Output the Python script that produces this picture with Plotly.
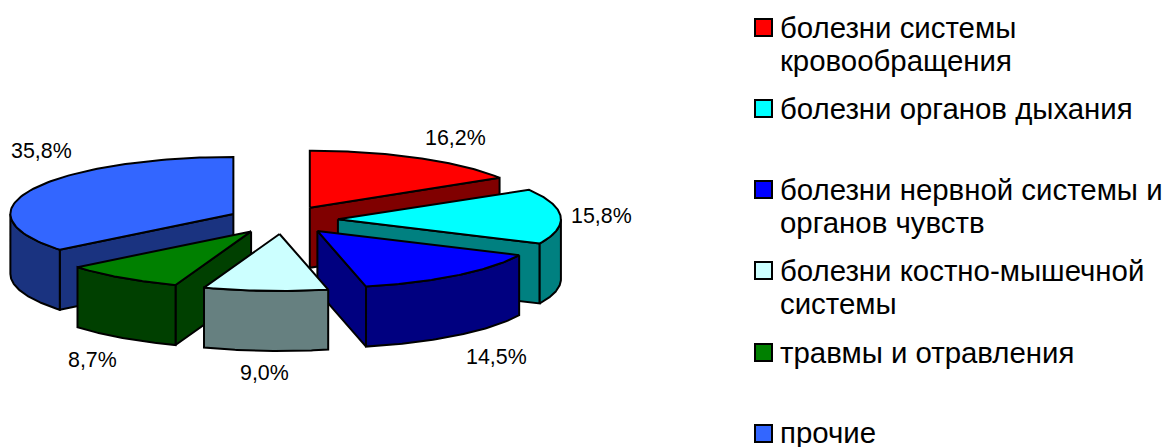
import numpy as np
import plotly.graph_objects as go

category_lines = [["болезни системы", "кровообращения"], ["болезни органов дыхания"],
                  ["болезни нервной системы и", "органов чувств"], ["болезни костно-мышечной", "системы"],
                  ["травмы и отравления"], ["прочие"]]
values = [16.2, 15.8, 14.5, 9.0, 8.7, 35.8]
labels = ["16,2%", "15,8%", "14,5%", "9,0%", "8,7%", "35,8%"]
top_colors = ["#FF0000", "#00FFFF", "#0000FF", "#CCFFFF", "#008000", "#3366FF"]
wall_colors = ["#800000", "#008080", "#000080", "#668080", "#004000", "#1A3380"]

# Projection of the tilted, exploded pie (page pixels)
CX, CY, RX, RY, DEPTH = 283, 220, 223, 57, 60
EXP_X, EXP_Y = 55, 14
LINE = dict(color="black", width=2)

label_pos = [(455, 138), (601, 216), (496, 357), (264, 373), (92, 360), (41, 151)]
legend_rows = [(18, [27, 60]), (99, [108]), (180, [189, 222]), (261, [270, 303]), (343, [352]), (424, [432])]

fig = go.Figure()


def poly(xs, ys, color):
    fig.add_trace(go.Scatter(x=list(xs), y=list(ys), mode="lines", fill="toself", fillcolor=color,
                             line=LINE, hoverinfo="skip", showlegend=False))


edges = np.concatenate([[0], np.cumsum(values)]) * 3.6
order = [0, 1, 2, 5, 4, 3]
for i in order:
    a0, a1 = np.radians(edges[i]), np.radians(edges[i + 1])
    mid = (a0 + a1) / 2
    tx, ty = CX + EXP_X * np.sin(mid), CY - EXP_Y * np.cos(mid)
    # radial side faces that look towards the viewer
    for a, vis in ((a0, np.sin(a0) < -1e-6), (a1, np.sin(a1) > 1e-6)):
        if vis:
            ex, ey = tx + RX * np.sin(a), ty - RY * np.cos(a)
            poly([tx, ex, ex, tx, tx], [ty, ey, ey + DEPTH, ty + DEPTH, ty], wall_colors[i])
    # outer wall (front half only)
    w0, w1 = max(a0, np.pi / 2), min(a1, 3 * np.pi / 2)
    if w1 > w0:
        t = np.linspace(w0, w1, 60)
        ax, ay = tx + RX * np.sin(t), ty - RY * np.cos(t)
        poly(np.r_[ax, ax[::-1], ax[0]], np.r_[ay, ay[::-1] + DEPTH, ay[0]], wall_colors[i])
    # top face
    t = np.linspace(a0, a1, 90)
    poly(np.r_[tx, tx + RX * np.sin(t), tx], np.r_[ty, ty - RY * np.cos(t), ty], top_colors[i])

annotations = [dict(x=x, y=y, text=s, showarrow=False, xanchor="center", yanchor="middle",
                    font=dict(size=21.4, color="black"))
               for (x, y), s in zip(label_pos, labels)]
shapes = []
for (top, ys), lines, c in zip(legend_rows, category_lines, top_colors):
    shapes.append(dict(type="rect", x0=755, x1=772, y0=top + 1, y1=top + 18, fillcolor=c,
                       line=dict(color="black", width=2), layer="above"))
    for y, line in zip(ys, lines):
        annotations.append(dict(x=778, y=y, text=line, showarrow=False, xanchor="left", yanchor="middle",
                                align="left", font=dict(size=29.4, color="black")))

fig.update_layout(
    width=1167, height=447, margin=dict(l=0, r=0, t=0, b=0),
    paper_bgcolor="white", plot_bgcolor="white",
    font=dict(family="Liberation Sans, Arial, sans-serif"),
    xaxis=dict(range=[0, 1167], visible=False, fixedrange=True),
    yaxis=dict(range=[447, 0], visible=False, fixedrange=True),
    annotations=annotations, shapes=shapes, showlegend=False,
)
fig.write_html("out.html", config=dict(displayModeBar=False),
               post_script="document.body.style.margin='0';document.body.style.overflow='hidden';")
